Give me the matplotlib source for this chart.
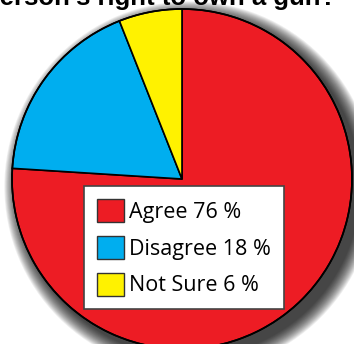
import matplotlib.pyplot as plt
from matplotlib.patches import Circle, Patch

# data
labels = ["Agree", "Disagree", "Not Sure"]
values = [76, 18, 6]
colors = ["#ED1C24", "#00AEEF", "#FFF200"]
title = "person's right to own a gun?"

W, H = 354, 344
fig = plt.figure(figsize=(W / 100, H / 100), dpi=100)
ax = fig.add_axes([0, 0, 1, 1])

# pie center and radius in pixels
cx, cy, R = 182, 179, 170

# soft drop shadow, offset to lower right
n = 18
for k in range(n):
    ax.add_patch(Circle((0.045, -0.045), 1 + 0.005 * (n - k),
                        color="black", alpha=0.065, lw=0, zorder=0))

ax.pie(values, colors=colors, startangle=90, counterclock=False, radius=1,
       wedgeprops=dict(edgecolor="black", linewidth=1.2))
ax.add_patch(Circle((0, 0), 1, fill=False, ec="black", lw=1.2, zorder=5))

ax.set_aspect("auto")
ax.set_xlim(-cx / R, (W - cx) / R)
ax.set_ylim(-(H - cy) / R, cy / R)
ax.axis("off")

# title is cropped at the top in the original
fig.text(336 / W, 1 - 5 / H, title, ha="right", va="baseline",
         fontsize=18.5, fontweight="bold", family="Liberation Sans")

handles = [Patch(facecolor=c, edgecolor="#333333", linewidth=1)
           for c in colors]
leg_labels = [f"{l} {v} %" for l, v in zip(labels, values)]
leg = ax.legend(handles, leg_labels, loc="upper left",
                bbox_to_anchor=(84 / W, 1 - 186 / H),
                bbox_transform=fig.transFigure, borderaxespad=0,
                fancybox=False, framealpha=1, edgecolor="#444444",
                prop=dict(family="Open Sans", size=15.5),
                handlelength=1.25, handleheight=1.25, handletextpad=0.25,
                labelspacing=0.62, borderpad=0.6)
leg.get_frame().set_linewidth(1.2)

fig.savefig("out.png", dpi=100)
